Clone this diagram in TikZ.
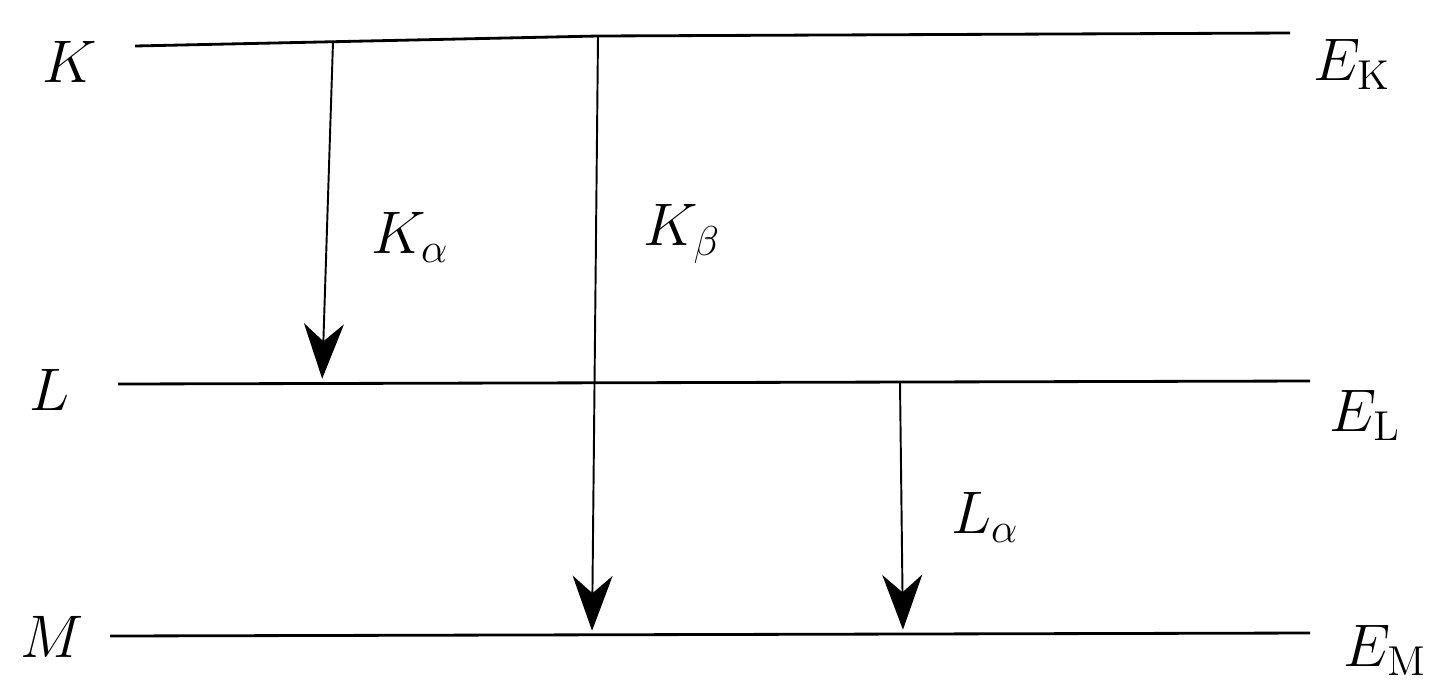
\documentclass[tikz,border=0pt]{standalone}
\usepackage{amsmath}
\usetikzlibrary{arrows.meta}

\begin{document}
\begin{tikzpicture}[
  x=0.02cm, y=-0.02cm,
  font=\huge,
  level/.style={line width=1.6pt},
  trans/.style={line width=1.1pt, -{Stealth[length=1.1cm, width=0.8cm, inset=0.35cm]}, shorten >=3},
  lbl/.style={inner sep=0pt, scale=1.65}
]
\useasboundingbox (0,0) rectangle (1439,684);

% levels
\coordinate (kl) at (135,46);  \coordinate (kr) at (1290,33);
\coordinate (ll) at (118,384); \coordinate (lr) at (1310,381);
\coordinate (ml) at (110,636); \coordinate (mr) at (1310,633);
\draw[level] (kl) -- (598,36) -- (kr);
\draw[level] (ll) -- (lr);
\draw[level] (ml) -- (mr);

\node[lbl] (kname) at (70,62) {$K$};
\node[lbl] (lname) at (50,390) {$L$};
\node[lbl] (mname) at (52,637) {$M$};
\node[lbl] (ek) at (1352,64) {$E_{\mathrm{K}}$};
\node[lbl] (el) at (1365,415) {$E_{\mathrm{L}}$};
\node[lbl] (em) at (1385,650) {$E_{\mathrm{M}}$};

% transitions
\coordinate (ka0) at (333,42);  \coordinate (ka1) at (322,384);
\coordinate (kb0) at (598,36);  \coordinate (kb1) at (592,636);
\coordinate (la0) at (900,383); \coordinate (la1) at (903,635);
\draw[trans] (ka0) -- (ka1);
\draw[trans] (kb0) -- (kb1);
\draw[trans] (la0) -- (la1);

\node[lbl] (kalpha) at (410,237) {$K_\alpha$};
\node[lbl] (kbeta) at (682,234) {$K_\beta$};
\node[lbl] (lalpha) at (985,517) {$L_\alpha$};
\end{tikzpicture}
\end{document}
